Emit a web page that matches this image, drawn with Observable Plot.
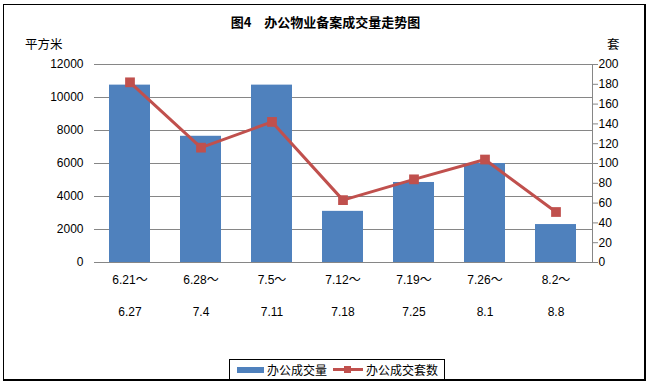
<!DOCTYPE html>
<html>
<head>
<meta charset="utf-8">
<script src="https://cdn.jsdelivr.net/npm/d3@7"></script>
<script src="https://cdn.jsdelivr.net/npm/@observablehq/plot@0.6"></script>
<style>
  body { margin: 0; background: #fff; }
  #wrap { position: relative; width: 651px; height: 387px; font-family: "Liberation Sans", "Noto Sans CJK SC", sans-serif; }
  #border { position: absolute; left: 3px; top: 4px; width: 643px; height: 377px; border: 1px solid #000; border-right-width: 2px; border-bottom-width: 2px; box-sizing: border-box; }
  .lbl { position: absolute; white-space: nowrap; color: #000; }
  #title { left: 0; width: 651px; top: 12px; text-align: center; font-size: 13px; font-weight: bold; font-family: "Noto Sans CJK SC", sans-serif; }
  #yl { left: 25px; top: 34px; font-size: 12.5px; font-family: "Noto Sans CJK SC", sans-serif; }
  #yr { left: 607px; top: 34px; font-size: 12.5px; font-family: "Noto Sans CJK SC", sans-serif; }
  #legend { position: absolute; left: 229px; top: 359px; width: 216px; height: 21px; border: 1px solid #000; box-sizing: border-box; font-size: 12px; font-family: "Noto Sans CJK SC", sans-serif; }
  #legend .sw { position: absolute; left: 7px; top: 7px; width: 27px; height: 6px; background: #4F81BD; }
  #legend .t1 { position: absolute; left: 37px; top: 1px; }
  #legend .ln { position: absolute; left: 103px; top: 8px; width: 30px; height: 3px; background: #C0504D; }
  #legend .mk { position: absolute; left: 114px; top: 6px; width: 7px; height: 7px; background: #C0504D; }
  #legend .t2 { position: absolute; left: 136px; top: 1px; }
  svg { position: absolute; left: 0; top: 0; }
</style>
</head>
<body>
<div id="wrap">
  <div id="chart"></div>
  <div id="border"></div>
  <div class="lbl" id="title">图4　办公物业备案成交量走势图</div>
  <div class="lbl" id="yl">平方米</div>
  <div class="lbl" id="yr">套</div>
  <div id="legend"><div class="sw"></div><div class="t1">办公成交量</div><div class="ln"></div><div class="mk"></div><div class="t2">办公成交套数</div></div>
</div>
<script>
const periods = ["6.21～6.27", "6.28～7.4", "7.5～7.11", "7.12～7.18", "7.19～7.25", "7.26～8.1", "8.2～8.8"];
const startLabels = ["6.21～", "6.28～", "7.5～", "7.12～", "7.19～", "7.26～", "8.2～"];
const endLabels = ["6.27", "7.4", "7.11", "7.18", "7.25", "8.1", "8.8"];
const areaValues = [10750, 7650, 10750, 3100, 4850, 6000, 2300];   // 办公成交量 (平方米)
const unitCounts = [182, 116, 142, 63, 84, 104, 51];               // 办公成交套数 (套)
const leftTicks = [0, 2000, 4000, 6000, 8000, 10000, 12000];
const rightTicks = [0, 20, 40, 60, 80, 100, 120, 140, 160, 180, 200];

const ratio = 12000 / 200;
const data = periods.map((p, i) => ({period: p, area: areaValues[i], count: unitCounts[i], start: startLabels[i], end: endLabels[i]}));
const startOf = Object.fromEntries(data.map(d => [d.period, d.start]));
const endOf = Object.fromEntries(data.map(d => [d.period, d.end]));

const grid = "#868686";
const chart = Plot.plot({
  width: 651,
  height: 387,
  marginTop: 64,
  marginBottom: 125,
  marginLeft: 94,
  marginRight: 59,
  style: {fontSize: "12px", fontFamily: "'Liberation Sans','Noto Sans CJK SC',sans-serif", background: "transparent"},
  x: {domain: periods, paddingInner: 0.42, paddingOuter: 0.21},
  y: {domain: [0, 12000]},
  marks: [
    Plot.ruleY(leftTicks.filter(t => t > 0), {stroke: grid, strokeWidth: 1}),
    Plot.barY(data, {x: "period", y: "area", fill: "#4F81BD"}),
    Plot.ruleY([0], {stroke: grid, strokeWidth: 1}),
    Plot.frame({anchor: "right", stroke: grid}),
    Plot.axisY({ticks: leftTicks, tickSize: 0, tickPadding: 11, label: null, tickFormat: d => String(d)}),
    Plot.axisY({anchor: "right", ticks: rightTicks.map(t => t * ratio), tickFormat: d => String(Math.round(d / ratio)), tickSize: 5, tickPadding: 1, stroke: grid, label: null}),
    Plot.axisX({tickSize: 0, tickPadding: 13, tickFormat: d => startOf[d], label: null}),
    Plot.axisX({tickSize: 0, tickPadding: 45, tickFormat: d => endOf[d], label: null}),
    Plot.line(data, {x: "period", y: d => d.count * ratio, stroke: "#C0504D", strokeWidth: 3}),
    Plot.dot(data, {x: "period", y: d => d.count * ratio, symbol: "square", r: 5.5, fill: "#C0504D", stroke: "none"})
  ]
});
document.getElementById("chart").appendChild(chart);
</script>
</body>
</html>
